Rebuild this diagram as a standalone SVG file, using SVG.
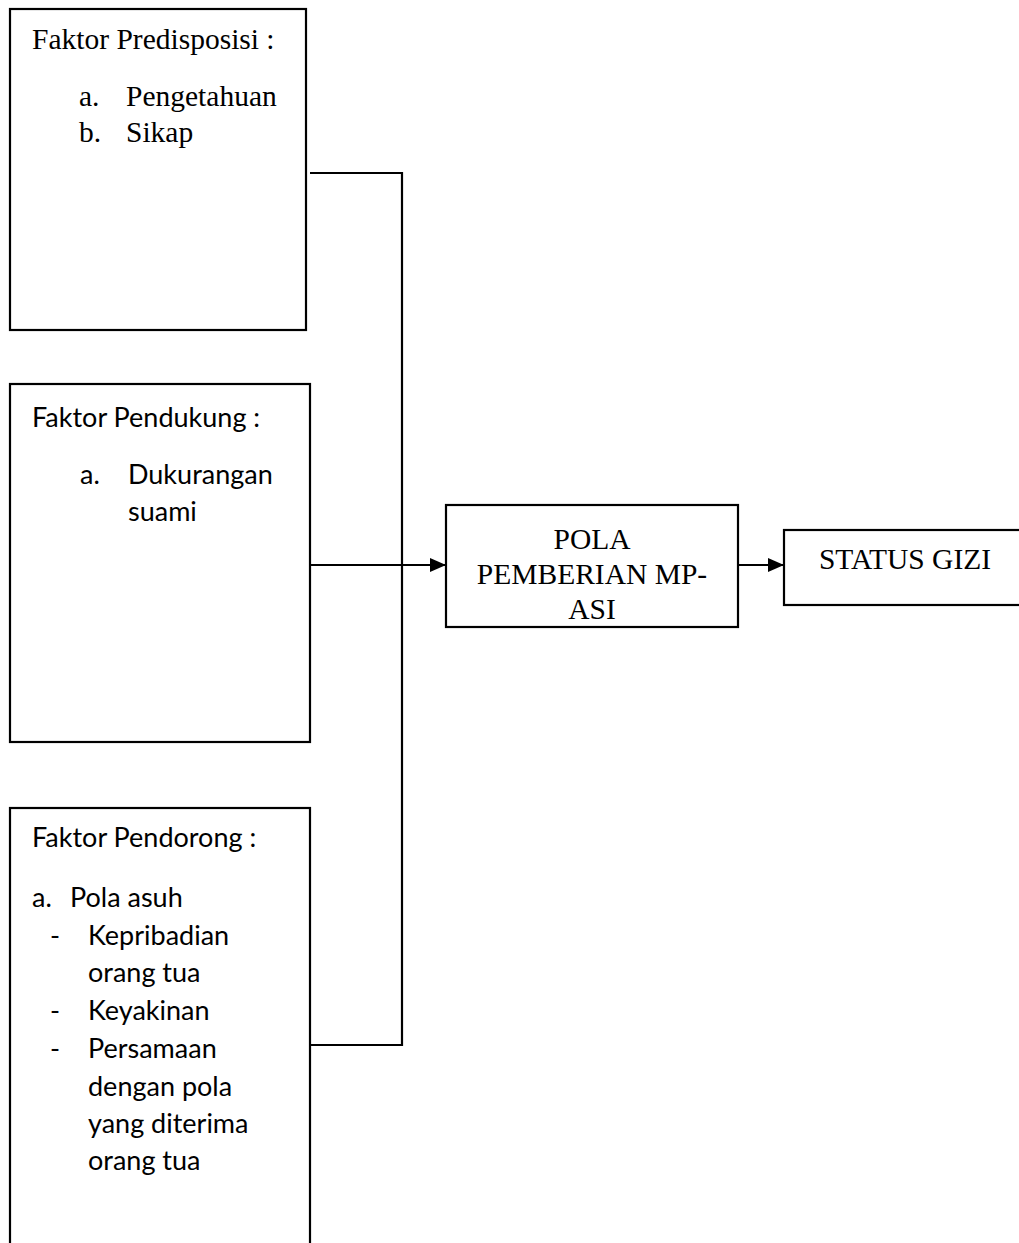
<svg xmlns="http://www.w3.org/2000/svg" width="1019" height="1243" viewBox="0 0 1019 1243">
<style>
.box{fill:#fff;stroke:#000;stroke-width:2.2}
.ln{fill:none;stroke:#000;stroke-width:2.2}
.serif{font-family:"Liberation Serif","Times New Roman",serif;font-size:29.5px;fill:#000}
.sans{font-family:Lato,"Liberation Sans",sans-serif;font-size:27px;fill:#000}
.mid{text-anchor:middle}
</style>
<defs>
<marker id="arr" markerWidth="16" markerHeight="14" refX="16" refY="7" orient="auto" markerUnits="userSpaceOnUse">
<path d="M0,0 L16,7 L0,14 Z" fill="#000"/>
</marker>
</defs>
<g id="connectors">
<path class="ln" d="M310,173 H402 V1045 H310"/>
<path class="ln" d="M310,565 H446" marker-end="url(#arr)"/>
<path class="ln" d="M738,565 H784" marker-end="url(#arr)"/>
</g>
<g id="faktor-predisposisi">
<rect class="box" x="10" y="9" width="296" height="321"/>
<text class="serif" x="32" y="49">Faktor Predisposisi :</text>
<text class="serif" x="79" y="106">a.</text>
<text class="serif" x="126" y="106">Pengetahuan</text>
<text class="serif" x="79" y="142">b.</text>
<text class="serif" x="126" y="142">Sikap</text>
</g>
<g id="faktor-pendukung">
<rect class="box" x="10" y="384" width="300" height="358"/>
<text class="sans" x="32" y="427">Faktor Pendukung :</text>
<text class="sans" x="80" y="484">a.</text>
<text class="sans" x="128" y="484">Dukurangan</text>
<text class="sans" x="128" y="521">suami</text>
</g>
<g id="faktor-pendorong">
<rect class="box" x="10" y="808" width="300" height="450"/>
<text class="sans" x="32" y="847">Faktor Pendorong :</text>
<text class="sans" x="32" y="907">a.</text>
<text class="sans" x="70" y="907">Pola asuh</text>
<text class="sans" x="50" y="945">-</text>
<text class="sans" x="88" y="945">Kepribadian</text>
<text class="sans" x="88" y="982">orang tua</text>
<text class="sans" x="50" y="1020">-</text>
<text class="sans" x="88" y="1020">Keyakinan</text>
<text class="sans" x="50" y="1058">-</text>
<text class="sans" x="88" y="1058">Persamaan</text>
<text class="sans" x="88" y="1096">dengan pola</text>
<text class="sans" x="88" y="1133">yang diterima</text>
<text class="sans" x="88" y="1170">orang tua</text>
</g>
<g id="pola-pemberian">
<rect class="box" x="446" y="505" width="292" height="122"/>
<text class="serif mid" x="592" y="549">POLA</text>
<text class="serif mid" x="592" y="584">PEMBERIAN MP-</text>
<text class="serif mid" x="592" y="619">ASI</text>
</g>
<g id="status-gizi">
<rect class="box" x="784" y="530" width="250" height="75"/>
<text class="serif mid" x="905" y="569">STATUS GIZI</text>
</g>
</svg>
